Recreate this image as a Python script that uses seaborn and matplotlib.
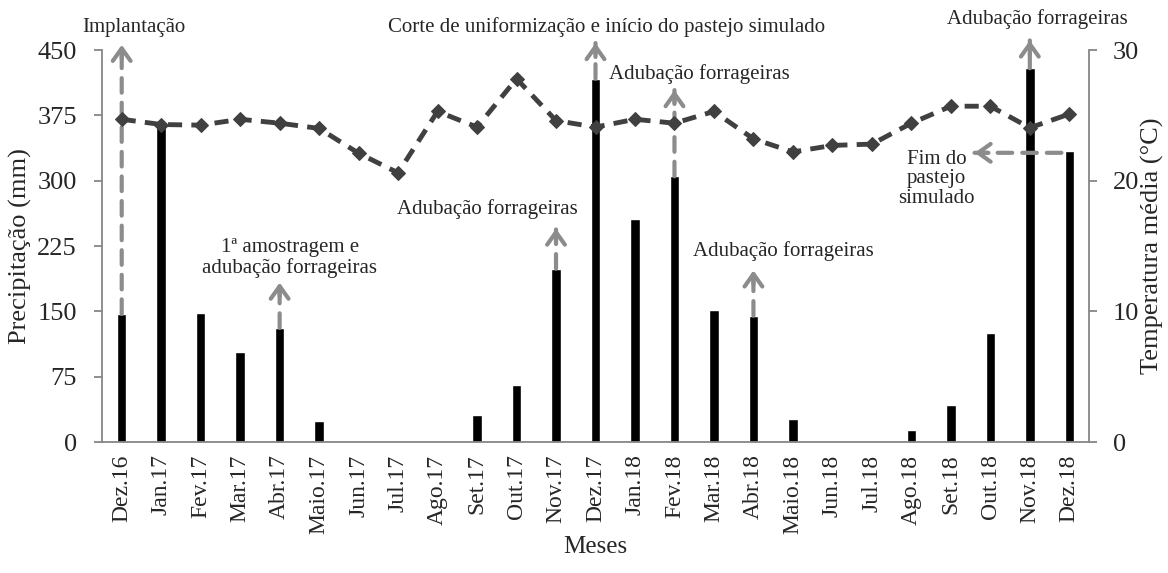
import numpy as np
import matplotlib
matplotlib.use('Agg')
import matplotlib.pyplot as plt
import seaborn as sns

# Data
meses = ['Dez.16', 'Jan.17', 'Fev.17', 'Mar.17', 'Abr.17', 'Maio.17', 'Jun.17',
         'Jul.17', 'Ago.17', 'Set.17', 'Out.17', 'Nov.17', 'Dez.17', 'Jan.18',
         'Fev.18', 'Mar.18', 'Abr.18', 'Maio.18', 'Jun.18', 'Jul.18', 'Ago.18',
         'Set.18', 'Out.18', 'Nov.18', 'Dez.18']
precipitacao = [147, 364, 148, 103, 131, 24, 0, 0, 0, 31, 66, 199, 417, 256,
                305, 152, 145, 26, 0, 0, 14, 43, 125, 429, 334]
temperatura = [24.7, 24.3, 24.25, 24.7, 24.4, 24.0, 22.1, 20.6, 25.3, 24.1,
               27.8, 24.6, 24.1, 24.7, 24.4, 25.3, 23.2, 22.2, 22.7, 22.8,
               24.4, 25.7, 25.7, 24.05, 25.1]
yticks_prec = [0, 75, 150, 225, 300, 375, 450]
yticks_temp = [0, 10, 20, 30]

# Style
sns.set_style("white")
plt.rcParams['font.family'] = ['Liberation Serif', 'DejaVu Serif']
GRAY = '#868686'
ARROW = '#8c8c8c'
LINE = '#404040'

fig, ax = plt.subplots(figsize=(11.68, 5.73), dpi=100)
fig.subplots_adjust(left=0.0873, right=0.9324, bottom=0.2286, top=0.9127)

idx = np.arange(len(meses))

# Bars: precipitation
sns.barplot(x=idx, y=precipitacao, color='black', width=0.24, ax=ax,
            saturation=1, native_scale=True)
ax.set_xlim(-0.5, len(meses) - 0.5)
ax.set_ylim(0, 450)
ax.set_yticks(yticks_prec)
ax.set_xticks(idx)
ax.set_xticklabels(meses, rotation=90, fontsize=17)
ax.set_xticks(np.arange(-0.5, len(meses), 1), minor=True)
ax.tick_params(axis='x', which='major', length=0, pad=9)
ax.tick_params(axis='x', which='minor', length=6, width=1.3, color=GRAY,
               direction='out')
ax.tick_params(axis='y', length=6, width=1.3, color=GRAY, labelsize=19,
               pad=12, direction='out', left=True)
ax.set_ylabel('Precipitação (mm)', fontsize=19, labelpad=4)
ax.set_xlabel('Meses', fontsize=18, labelpad=2)

for s in ['top', 'right']:
  ax.spines[s].set_visible(False)
for s in ['left', 'bottom']:
  ax.spines[s].set_color(GRAY)
  ax.spines[s].set_linewidth(1.3)

# Line: temperature on right axis
ax2 = ax.twinx()
sns.lineplot(x=idx, y=temperatura, ax=ax2, color=LINE, lw=3.5,
             marker='D', markersize=7, markeredgecolor=LINE,
             linestyle=(0, (2.9, 1.9)))
ax2.set_ylim(0, 30)
ax2.set_yticks(yticks_temp)
ax2.tick_params(axis='y', length=6, width=1.3, color=GRAY, labelsize=19,
                pad=11, direction='out', right=True)
ax2.set_ylabel('Temperatura média (°C)', fontsize=19, labelpad=1)
for s in ['top', 'left', 'bottom']:
  ax2.spines[s].set_visible(False)
ax2.spines['right'].set_color(GRAY)
ax2.spines['right'].set_linewidth(1.3)


def arrow(x0, y0, x1, y1, direction='up'):
  # dashed shaft + solid open head
  ax.annotate('', xy=(x1, y1), xytext=(x0, y0), annotation_clip=False,
              arrowprops=dict(arrowstyle='-', color=ARROW, lw=3,
                              ls=(0, (3.5, 2.4)), shrinkA=0, shrinkB=0))
  back = (0, -10) if direction == 'up' else (10, 0)
  ax.annotate('', xy=(x1, y1), xytext=back, textcoords='offset points',
              annotation_clip=False,
              arrowprops=dict(arrowstyle='->,head_length=0.45,head_width=0.32',
                              color=ARROW, lw=3, mutation_scale=20,
                              shrinkA=0, shrinkB=0))


def note(x, y, txt):
  ax.text(x, y, txt, ha='center', va='center', fontsize=15,
          linespacing=1.05, clip_on=False)


# Annotations
arrow(0, precipitacao[0], 0, 456)
note(0.31, 476, 'Implantação')

arrow(12, precipitacao[12], 12, 458)
note(12.28, 476, 'Corte de uniformização e início do pastejo simulado')

arrow(14, precipitacao[14], 14, 404)
note(14.64, 422, 'Adubação forrageiras')

arrow(4, precipitacao[4], 4, 183)
note(4.26, 211, '1ª amostragem e\nadubação forrageiras')

arrow(11, precipitacao[11], 11, 245)
note(9.25, 267, 'Adubação forrageiras')

arrow(16, precipitacao[16], 16, 197)
note(16.77, 219, 'Adubação forrageiras')

arrow(23, precipitacao[23], 23, 461)
note(23.2, 485, 'Adubação forrageiras')

arrow(23.8, 332, 21.6, 332, direction='left')
note(20.64, 302, 'Fim do\npastejo\nsimulado')

plt.savefig('out.png', dpi=100)
plt.close()
